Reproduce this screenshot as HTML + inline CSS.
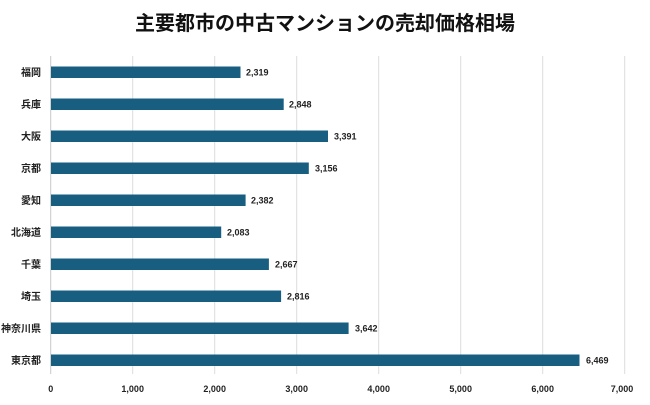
<!DOCTYPE html>
<html><head><meta charset="utf-8"><style>
body{margin:0;background:#fff;}
svg text{font-family:"Liberation Sans","Noto Sans CJK JP",sans-serif;}
</style></head><body>
<svg width="650" height="400" xmlns="http://www.w3.org/2000/svg">
<text x="325" y="30" text-anchor="middle" font-size="20" font-weight="bold" fill="#111">主要都市の中古マンションの売却価格相場</text>
<g stroke="#dcdcdc" stroke-width="1">
<line x1="132.7" y1="56" x2="132.7" y2="374"/>
<line x1="214.7" y1="56" x2="214.7" y2="374"/>
<line x1="296.7" y1="56" x2="296.7" y2="374"/>
<line x1="378.7" y1="56" x2="378.7" y2="374"/>
<line x1="460.7" y1="56" x2="460.7" y2="374"/>
<line x1="542.7" y1="56" x2="542.7" y2="374"/>
<line x1="624.7" y1="56" x2="624.7" y2="374"/>
<line x1="50.7" y1="56" x2="50.7" y2="374" stroke="#c8c8c8"/>
</g>
<g fill="#175e80">
<rect x="51" y="66.5" width="189.5" height="11.5"/>
<rect x="51" y="98.5" width="232.7" height="11.5"/>
<rect x="51" y="130.5" width="277" height="11.5"/>
<rect x="51" y="162.5" width="257.8" height="11.5"/>
<rect x="51" y="194.5" width="194.6" height="11.5"/>
<rect x="51" y="226.5" width="170.2" height="11.5"/>
<rect x="51" y="258.5" width="217.9" height="11.5"/>
<rect x="51" y="290.5" width="230.1" height="11.5"/>
<rect x="51" y="322.5" width="297.6" height="11.5"/>
<rect x="51" y="354.5" width="528.5" height="11.5"/>
</g>
<g font-size="10" fill="#222" text-anchor="end" font-weight="bold">
<text x="41" y="76">福岡</text>
<text x="41" y="108">兵庫</text>
<text x="41" y="140">大阪</text>
<text x="41" y="172">京都</text>
<text x="41" y="204">愛知</text>
<text x="41" y="236">北海道</text>
<text x="41" y="268">千葉</text>
<text x="41" y="300">埼玉</text>
<text x="41" y="332">神奈川県</text>
<text x="41" y="364">東京都</text>
</g>
<g font-size="9" font-weight="bold" fill="#222">
<text x="246" y="75.5">2,319</text>
<text x="289" y="107.5">2,848</text>
<text x="334" y="139.5">3,391</text>
<text x="315" y="171.5">3,156</text>
<text x="251" y="203.5">2,382</text>
<text x="227" y="235.5">2,083</text>
<text x="275" y="267.5">2,667</text>
<text x="287" y="299.5">2,816</text>
<text x="355" y="331.5">3,642</text>
<text x="586" y="363.5">6,469</text>
</g>
<g font-size="9" font-weight="bold" fill="#222" text-anchor="middle">
<text x="50.7" y="392">0</text>
<text x="132.7" y="392">1,000</text>
<text x="214.7" y="392">2,000</text>
<text x="296.7" y="392">3,000</text>
<text x="378.7" y="392">4,000</text>
<text x="460.7" y="392">5,000</text>
<text x="542.7" y="392">6,000</text>
<text x="622" y="392">7,000</text>
</g>
</svg>
</body></html>
